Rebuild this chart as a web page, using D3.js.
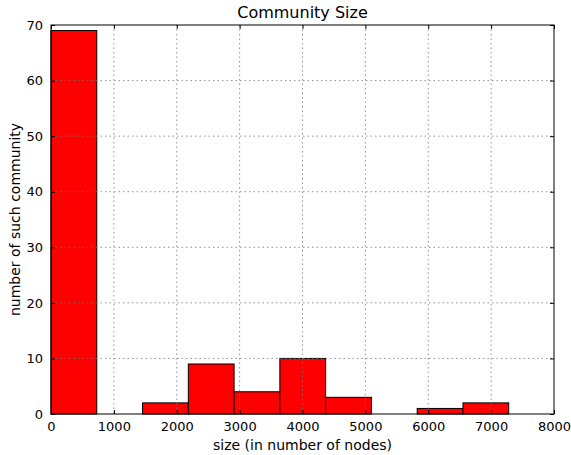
<!DOCTYPE html>
<html>
<head>
<meta charset="utf-8">
<script src="https://cdn.jsdelivr.net/npm/d3@7"></script>
<style>
  html, body { margin: 0; padding: 0; background: #fff; }
  svg { display: block; font-family: "DejaVu Sans", sans-serif; }
</style>
</head>
<body>
<svg id="chart" width="571" height="455"></svg>
<script>
// Histogram of community sizes
const binEdges = [0, 728, 1456, 2184, 2912, 3640, 4368, 5096, 5824, 6552, 7280];
const binCounts = [69, 0, 2, 9, 4, 10, 3, 0, 1, 2];
const xTicks = [0, 1000, 2000, 3000, 4000, 5000, 6000, 7000, 8000];
const yTicks = [0, 10, 20, 30, 40, 50, 60, 70];

const svg = d3.select("#chart");
const margin = { left: 51, right: 17, top: 25, bottom: 41 };
const W = 571, H = 455;
const iw = W - margin.left - margin.right;
const ih = H - margin.top - margin.bottom;

const x = d3.scaleLinear().domain([0, 8000]).range([0, iw]);
const y = d3.scaleLinear().domain([0, 70]).range([ih, 0]);

const g = svg.append("g").attr("transform", `translate(${margin.left},${margin.top})`);

// bars
const bins = binCounts.map((c, i) => ({ x0: binEdges[i], x1: binEdges[i + 1], c }));
g.append("g").selectAll("rect").data(bins.filter(b => b.c > 0)).join("rect")
  .attr("x", d => x(d.x0)).attr("width", d => x(d.x1) - x(d.x0))
  .attr("y", d => y(d.c)).attr("height", d => y(0) - y(d.c))
  .attr("fill", "#ff0000").attr("stroke", "#000").attr("stroke-width", 1);

// dotted grid, drawn over the bars
g.append("g").selectAll("line").data(xTicks.slice(1, -1)).join("line")
  .attr("x1", d => x(d)).attr("x2", d => x(d)).attr("y1", 0).attr("y2", ih)
  .attr("stroke", "#777").attr("stroke-width", 0.8).attr("stroke-dasharray", "1.5,3");
g.append("g").selectAll("line").data(yTicks.slice(1, -1)).join("line")
  .attr("x1", 0).attr("x2", iw).attr("y1", d => y(d)).attr("y2", d => y(d))
  .attr("stroke", "#777").attr("stroke-width", 0.8).attr("stroke-dasharray", "1.5,3");

// axes with inward ticks on all sides
const fmt = d3.format("d");
const axB = g.append("g").attr("transform", `translate(0,${ih})`)
  .call(d3.axisBottom(x).tickValues(xTicks).tickFormat(fmt).tickSizeInner(-4).tickSizeOuter(0).tickPadding(8));
const axT = g.append("g")
  .call(d3.axisTop(x).tickValues(xTicks).tickFormat("").tickSizeInner(-4).tickSizeOuter(0));
const axL = g.append("g")
  .call(d3.axisLeft(y).tickValues(yTicks).tickFormat(fmt).tickSizeInner(-4).tickSizeOuter(0).tickPadding(8));
const axR = g.append("g").attr("transform", `translate(${iw},0)`)
  .call(d3.axisRight(y).tickValues(yTicks).tickFormat("").tickSizeInner(-4).tickSizeOuter(0));
[axB, axT, axL, axR].forEach(a => {
  a.select(".domain").remove();
  a.selectAll("line").attr("stroke", "#000");
  a.selectAll("text").attr("fill", "#000").style("font-size", "13px").style("font-family", "DejaVu Sans, sans-serif");
});

// frame
g.append("rect").attr("x", 0).attr("y", 0).attr("width", iw).attr("height", ih)
  .attr("fill", "none").attr("stroke", "#000").attr("stroke-width", 1);

// labels
svg.append("text").attr("x", margin.left + iw / 2).attr("y", 18)
  .attr("text-anchor", "middle").style("font-size", "16px").text("Community Size");
svg.append("text").attr("x", margin.left + iw / 2).attr("y", 450)
  .attr("text-anchor", "middle").style("font-size", "14px").text("size (in number of nodes)");
svg.append("text").attr("transform", `translate(20,${margin.top + ih / 2}) rotate(-90)`)
  .attr("text-anchor", "middle").style("font-size", "14px").text("number of such community");
</script>
</body>
</html>
